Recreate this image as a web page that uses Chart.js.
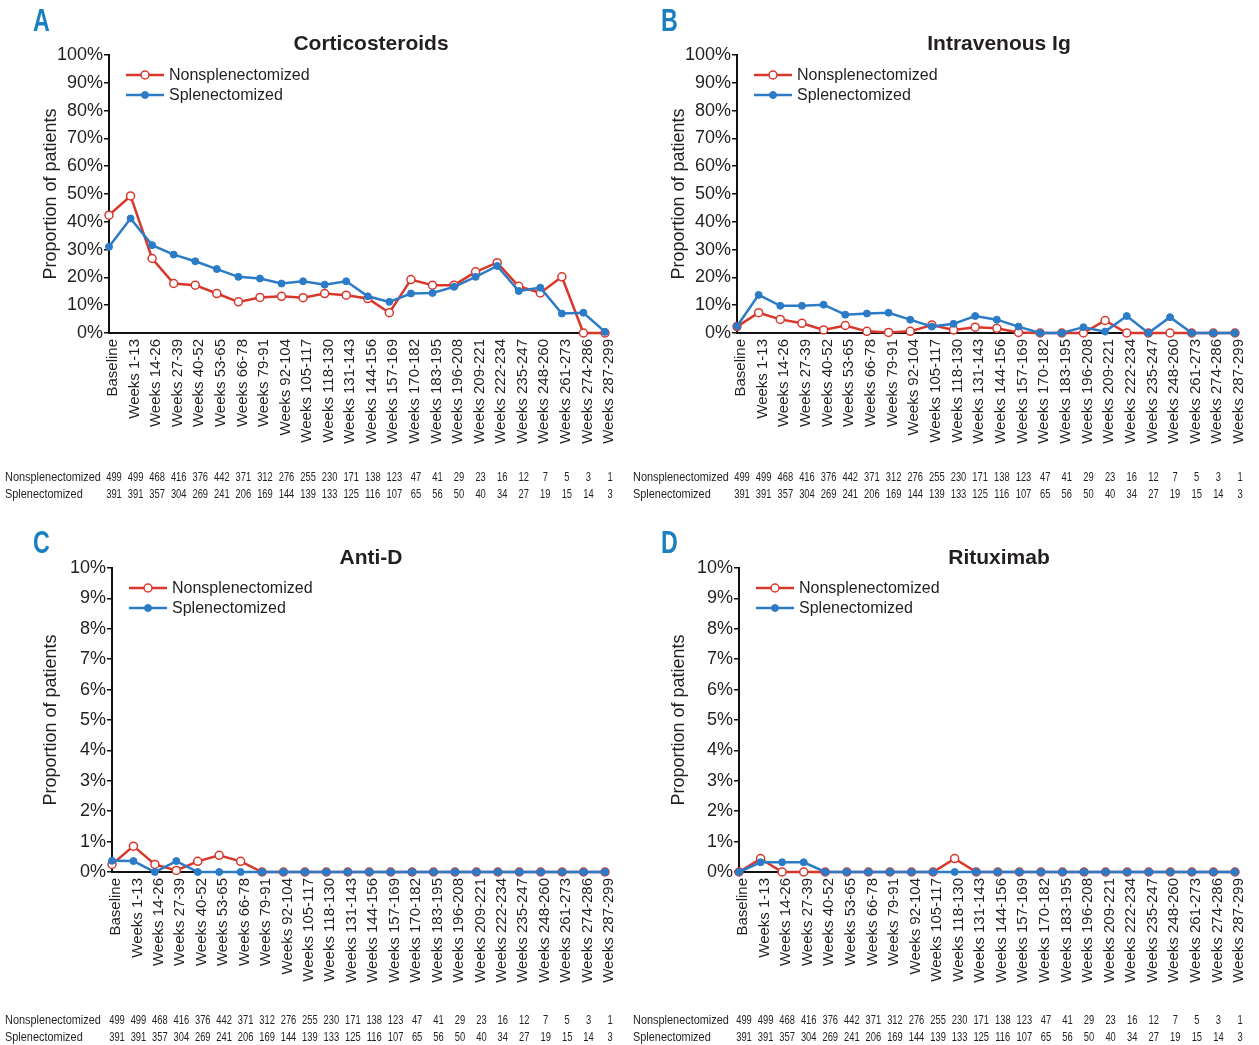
<!DOCTYPE html>
<html><head><meta charset="utf-8">
<script src="https://cdn.jsdelivr.net/npm/chart.js@4.4.1/dist/chart.umd.min.js"></script>
<style>
html,body{margin:0;padding:0;background:#fff}
body{width:1259px;height:1045px;overflow:hidden;position:relative}
.panel{position:absolute}
.panel canvas{display:block}
</style></head><body>
<div class="panel" style="left:0;top:0;width:629px;height:520px"><canvas id="cA"></canvas></div>
<div class="panel" style="left:628px;top:0;width:631px;height:520px"><canvas id="cB"></canvas></div>
<div class="panel" style="left:0;top:520px;width:629px;height:525px"><canvas id="cC"></canvas></div>
<div class="panel" style="left:628px;top:520px;width:631px;height:525px"><canvas id="cD"></canvas></div>
<script>
// ---------- data ----------
const categories = ['Baseline','Weeks 1-13','Weeks 14-26','Weeks 27-39','Weeks 40-52','Weeks 53-65','Weeks 66-78','Weeks 79-91','Weeks 92-104','Weeks 105-117','Weeks 118-130','Weeks 131-143','Weeks 144-156','Weeks 157-169','Weeks 170-182','Weeks 183-195','Weeks 196-208','Weeks 209-221','Weeks 222-234','Weeks 235-247','Weeks 248-260','Weeks 261-273','Weeks 274-286','Weeks 287-299'];
const seriesNames = ['Nonsplenectomized','Splenectomized'];
const nonsplenN = [499,499,468,416,376,442,371,312,276,255,230,171,138,123,47,41,29,23,16,12,7,5,3,1];
const splenN    = [391,391,357,304,269,241,206,169,144,139,133,125,116,107,65,56,50,40,34,27,19,15,14,3];

const corticoNon   = [42.4,49.3,26.8,17.8,17.2,14.2,11.2,12.8,13.2,12.7,14.2,13.6,12.4,7.3,19.2,17.2,17.2,22.0,25.3,16.8,14.4,20.2,0,0];
const corticoSplen = [31.0,41.2,31.6,28.2,25.8,23.0,20.2,19.6,17.8,18.6,17.4,18.6,13.2,11.2,14.2,14.4,16.6,20.2,24.1,15.1,16.3,7.0,7.3,0.4];
const ivigNon      = [2.3,7.3,4.9,3.5,1.1,2.7,0.6,0.2,0.6,2.9,1.1,2.1,1.7,0.2,0,0,0,4.5,0,0,0,0,0,0];
const ivigSplen    = [2.4,13.7,9.8,9.8,10.2,6.6,7.0,7.3,4.8,2.3,3.3,6.1,4.8,2.3,0,0,2.1,0.5,6.1,0,5.7,0,0,0];
const antiDNon     = [0.25,0.85,0.25,0.05,0.35,0.55,0.35,0,0,0,0,0,0,0,0,0,0,0,0,0,0,0,0,0];
const antiDSplen   = [0.37,0.36,0,0.36,0,0,0,0,0,0,0,0,0,0,0,0,0,0,0,0,0,0,0,0];
const rituxNon     = [0,0.44,0,0,0,0,0,0,0,0,0.44,0,0,0,0,0,0,0,0,0,0,0,0,0];
const rituxSplen   = [0,0.32,0.32,0.32,0,0,0,0,0,0,0,0,0,0,0,0,0,0,0,0,0,0,0,0];

const panelTitles = ['Corticosteroids','Intravenous Ig','Anti-D','Rituximab'];
const panelLetters = ['A','B','C','D'];
const yTitle = 'Proportion of patients';

// ---------- style ----------
const RED = '#d8372b', BLUE = '#2b7bc6', TEXT = '#231f20', LETTER = '#1a7fbf';
const SANS = "'Liberation Sans', Arial, Helvetica, sans-serif";

function narrowText(ctx, text, x, y, align, sx) {
  ctx.save();
  ctx.translate(x, y);
  ctx.scale(sx, 1);
  ctx.textAlign = align;
  ctx.fillText(text, 0, 0);
  ctx.restore();
}

const decor = {
  id: 'decor',
  afterDraw(chart, args, o) {
    const ctx = chart.ctx, ca = chart.chartArea, xs = chart.scales.x;
    ctx.save();
    // panel letter (condensed bold)
    ctx.fillStyle = LETTER;
    ctx.font = "bold 31px " + SANS;
    ctx.textBaseline = 'top';
    narrowText(ctx, o.letter, o.letterX, o.letterY, 'left', 0.75);
    // title
    ctx.fillStyle = TEXT;
    ctx.font = "bold 21px " + SANS;
    ctx.textAlign = 'center'; ctx.textBaseline = 'middle';
    ctx.fillText(o.title, o.titleX, ca.top - o.titleGap);
    // legend
    chart.data.datasets.forEach((ds, i) => {
      const y = ca.top + 20 + i * 20;
      const x0 = ca.left + 17, x1 = ca.left + 55;
      ctx.strokeStyle = ds.borderColor; ctx.lineWidth = 2.5;
      ctx.beginPath(); ctx.moveTo(x0, y); ctx.lineTo(x1, y); ctx.stroke();
      ctx.beginPath(); ctx.arc((x0 + x1) / 2, y, ds.pointRadius, 0, Math.PI * 2);
      ctx.fillStyle = ds.pointBackgroundColor; ctx.fill();
      ctx.lineWidth = ds.pointBorderWidth; ctx.strokeStyle = ds.pointBorderColor; ctx.stroke();
      ctx.fillStyle = TEXT; ctx.font = "16px " + SANS;
      ctx.textAlign = 'left'; ctx.textBaseline = 'middle';
      ctx.fillText(ds.label, ca.left + 60, y + 1);
    });
    // count table (condensed)
    ctx.font = "13px " + SANS;
    ctx.fillStyle = TEXT;
    ctx.textBaseline = 'middle';
    o.rows.forEach((row, r) => {
      const y = ca.bottom + o.tableY + r * 17;
      narrowText(ctx, row.label, 5, y, 'left', 0.84);
      row.values.forEach((v, i) => narrowText(ctx, String(v), xs.getPixelForValue(i) + 5, y, 'center', 0.72));
    });
    ctx.restore();
  }
};

function makeChart(id, idx, nonData, splenData, yMax, yStep, g) {
  const rows = [{label: seriesNames[0], values: nonsplenN}, {label: seriesNames[1], values: splenN}];
  return new Chart(document.getElementById(id), {
    type: 'line',
    data: {
      labels: categories,
      datasets: [
        {label: seriesNames[0], data: nonData, borderColor: RED, borderWidth: 2.5,
         pointRadius: 4, pointBackgroundColor: '#ffffff', pointBorderColor: RED, pointBorderWidth: 1.5,
         tension: 0, clip: false, order: 1},
        {label: seriesNames[1], data: splenData, borderColor: BLUE, borderWidth: 2.5,
         pointRadius: 3.5, pointBackgroundColor: BLUE, pointBorderColor: BLUE, pointBorderWidth: 1,
         tension: 0, clip: false, order: 0}
      ]
    },
    options: {
      responsive: true, maintainAspectRatio: false, animation: false, devicePixelRatio: 1,
      layout: {padding: {left: 0, right: g.right, top: g.top, bottom: 0}},
      plugins: {
        legend: {display: false}, tooltip: {enabled: false},
        title: {display: false},
        decor: {letter: panelLetters[idx], title: panelTitles[idx], letterX: 33, letterY: g.letterY,
                titleX: 371, titleGap: g.titleGap, tableY: g.tableY, rows: rows}
      },
      scales: {
        x: {
          type: 'category', offset: false,
          grid: {display: false, drawTicks: false},
          border: {display: true, color: '#111', width: 2},
          ticks: {autoSkip: false, minRotation: 90, maxRotation: 90, padding: 6, labelOffset: 4,
                  color: TEXT, font: {family: SANS, size: 15}},
          afterFit(s) { s.height = g.xHeight; }
        },
        y: {
          min: 0, max: yMax,
          grid: {display: true, drawOnChartArea: false, drawTicks: true, tickLength: 5, color: '#111', lineWidth: 1.5},
          border: {display: true, color: '#111', width: 2},
          ticks: {stepSize: yStep, padding: 1, color: TEXT, font: {family: SANS, size: 18},
                  callback: v => v + '%'},
          title: {display: true, text: yTitle, color: TEXT, font: {family: SANS, size: 18}, padding: {top: 40, bottom: 0}},
          afterFit(s) { s.width = g.left; }
        }
      }
    },
    plugins: [decor]
  });
}

const gTop = {left: 109, right: 13, top: 55, xHeight: 187, letterY: 7, titleGap: 11, tableY: 144};
const gTopB = {left: 109, right: 15, top: 55, xHeight: 187, letterY: 7, titleGap: 11, tableY: 144};
const gBot = {left: 112, right: 13, top: 48, xHeight: 173, letterY: 9, titleGap: 10, tableY: 148};
const gBotB = {left: 111, right: 15, top: 48, xHeight: 173, letterY: 9, titleGap: 10, tableY: 148};

makeChart('cA', 0, corticoNon, corticoSplen, 100, 10, gTop);
makeChart('cB', 1, ivigNon, ivigSplen, 100, 10, gTopB);
makeChart('cC', 2, antiDNon, antiDSplen, 10, 1, gBot);
makeChart('cD', 3, rituxNon, rituxSplen, 10, 1, gBotB);
</script>
</body></html>
